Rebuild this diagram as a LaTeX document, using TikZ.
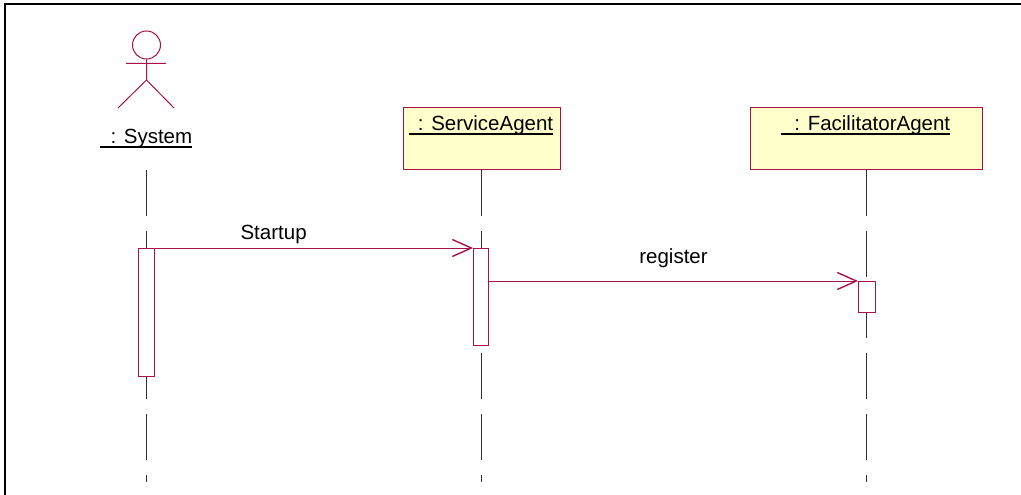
\documentclass[tikz,border=0pt]{standalone}
\usepackage{fontspec}
\setmainfont{Liberation Sans}
\usetikzlibrary{arrows.meta}
\definecolor{umlred}{HTML}{A8124A}
\definecolor{umlfill}{HTML}{FFFFCC}
\definecolor{lifegray}{HTML}{303030}
\newcommand\ulabel[2]{\rlap{\raisebox{-4.3pt}{\rule{#1}{1.5pt}}}\makebox[#1][r]{#2}}
\tikzset{
  x=1pt,y=-1pt,
  every node/.style={font=\fontsize{20.5}{24}\selectfont,inner sep=0pt},
  obj/.style={draw=umlred,fill=umlfill,line width=1pt,minimum height=62pt,anchor=north west},
  act/.style={draw=umlred,fill=white,line width=1pt,anchor=north west},
  lifeline/.style={draw=lifegray,line width=1pt,dash pattern=on 46pt off 15pt},
  msg/.style={draw=umlred,line width=1pt,-{Straight Barb[length=19pt,width=17pt,line width=1.4pt]}},
  actorline/.style={draw=umlred,line width=1pt},
  frame/.style={draw=black,line width=2pt}
}
\begin{document}
\begin{tikzpicture}
\useasboundingbox (0,0) rectangle (1021,495);
% frame
\coordinate (fa) at (5,495);
\coordinate (fb) at (5,4);
\coordinate (fc) at (1021,4);
\draw[frame] (fa) -- (fb) -- (fc);
% objects
\node[obj,minimum width=157pt] (svc) at (403,107) {};
\node[anchor=base west] (svcl) at (409,130.5) {\ulabel{144pt}{: ServiceAgent}};
\node[obj,minimum width=232pt] (fac) at (750,107) {};
\node[anchor=base west] (facl) at (781,130.5) {\ulabel{169pt}{: FacilitatorAgent}};
\node[anchor=base west] (sysl) at (100,143.5) {\ulabel{92pt}{: System}};
% actor
\node[circle,draw=umlred,line width=1pt,minimum size=28pt] (head) at (146.5,45) {};
\coordinate (neck) at (146.5,80);
\coordinate (arml) at (126,63.5);
\coordinate (armr) at (166,63.5);
\coordinate (legl) at (118,108);
\coordinate (legr) at (174,108);
\draw[actorline] (head.south) -- (neck) (arml) -- (armr) (legl) -- (neck) -- (legr);
% lifelines
\coordinate (s0) at (146,170);
\coordinate (s1) at (146,482);
\coordinate (v0) at (481,170);
\coordinate (v1) at (481,482);
\coordinate (f0) at (866,170);
\coordinate (f1) at (866,482);
\draw[lifeline] (s0) -- (s1);
\draw[lifeline] (v0) -- (v1);
\draw[lifeline] (f0) -- (f1);
% activations
\node[act,minimum width=16pt,minimum height=128pt] (sa) at (138,248) {};
\node[act,minimum width=15pt,minimum height=97pt] (va) at (473,248) {};
\node[act,minimum width=17pt,minimum height=31pt] (fa2) at (858,281) {};
% messages
\draw[msg] (sa.north east) -- node[pos=0.373,above=9pt,anchor=base] (m1) {Startup} (va.north west);
\draw[msg] (va.east |- fa2.north west) -- node[pos=0.5,above=18pt,anchor=base] (m2) {register} (fa2.north west);
\end{tikzpicture}
\end{document}
